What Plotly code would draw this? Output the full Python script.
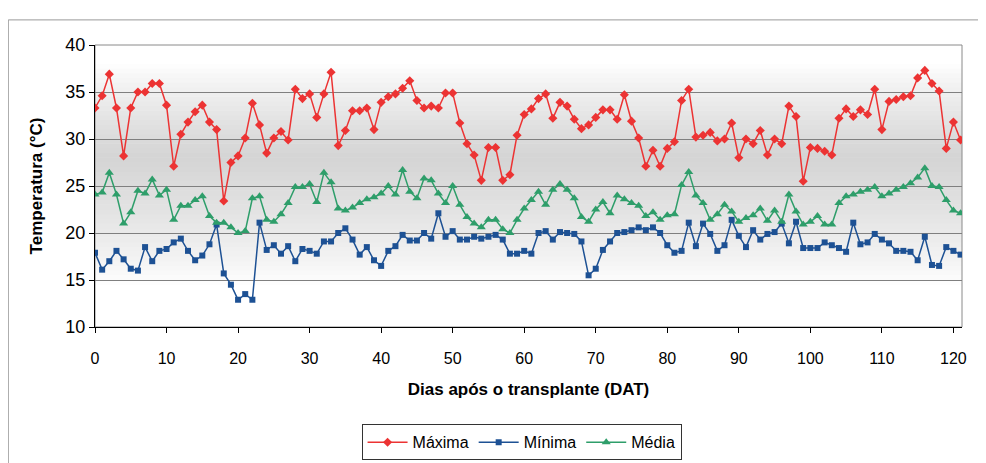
import plotly.graph_objects as go

days = list(range(122))

maxima = [33.3, 34.6, 36.9, 33.3, 28.2, 33.3, 35.0, 35.0, 35.9, 35.9,
          33.6, 27.1, 30.5, 31.8, 32.9, 33.6, 31.8, 31.0, 23.4, 27.5,
          28.2, 30.1, 33.8, 31.5, 28.5, 30.1, 30.8, 29.9, 35.3, 34.3,
          34.8, 32.3, 34.8, 37.1, 29.3, 30.9, 33.0, 33.0, 33.3, 31.0,
          33.9, 34.5, 34.8, 35.4, 36.2, 34.1, 33.3, 33.5, 33.3, 34.9,
          34.9, 31.7, 29.5, 28.3, 25.6, 29.1, 29.1, 25.6, 26.2, 30.4,
          32.6, 33.2, 34.3, 34.8, 32.2, 33.9, 33.5, 32.1, 31.1, 31.5,
          32.3, 33.1, 33.1, 32.1, 34.7, 31.9, 30.1, 27.1, 28.8, 27.1,
          29.0, 29.7, 34.1, 35.3, 30.2, 30.4, 30.7, 29.8, 30.0, 31.7,
          28.0, 30.0, 29.5, 30.9, 28.3, 30.0, 29.5, 33.5, 32.4, 25.5,
          29.1, 29.0, 28.7, 28.3, 32.2, 33.2, 32.4, 33.1, 32.6, 35.3,
          31.0, 34.0, 34.2, 34.5, 34.6, 36.5, 37.3, 35.9, 35.1, 29.0,
          31.8, 29.9]

minima = [17.9, 16.1, 17.0, 18.1, 17.2, 16.2, 16.0, 18.5, 17.0, 18.1,
          18.3, 19.0, 19.4, 18.1, 17.1, 17.6, 18.8, 20.9, 15.7, 14.5,
          12.9, 13.5, 12.9, 21.1, 18.2, 18.7, 17.8, 18.6, 17.0, 18.3,
          18.1, 17.8, 19.1, 19.1, 20.0, 20.5, 19.3, 17.7, 18.5, 17.1,
          16.5, 18.1, 18.6, 19.8, 19.2, 19.2, 20.0, 19.4, 22.1, 19.6,
          20.2, 19.3, 19.3, 19.6, 19.4, 19.6, 19.8, 19.3, 17.8, 17.8,
          18.1, 17.8, 20.0, 20.2, 19.3, 20.1, 20.0, 19.9, 19.1, 15.5,
          16.2, 18.2, 19.1, 20.0, 20.1, 20.3, 20.6, 20.3, 20.6, 20.0,
          18.7, 17.9, 18.1, 21.1, 18.6, 21.0, 19.9, 18.1, 18.7, 21.4,
          19.7, 18.5, 20.3, 19.3, 19.9, 20.1, 21.0, 18.9, 21.2, 18.4,
          18.4, 18.4, 19.0, 18.7, 18.4, 18.0, 21.1, 18.8, 19.0, 19.9,
          19.3, 18.9, 18.1, 18.1, 18.0, 17.1, 19.6, 16.6, 16.5, 18.5,
          18.1, 17.7]

media = [24.1, 24.3, 26.4, 24.1, 21.0, 22.2, 24.5, 24.2, 25.7, 24.0,
         24.6, 21.4, 22.9, 22.9, 23.5, 23.9, 21.8, 21.1, 21.1, 20.6,
         20.0, 20.2, 23.7, 23.9, 21.4, 21.2, 22.0, 23.2, 24.9, 24.9,
         25.2, 23.3, 26.4, 25.4, 22.6, 22.4, 22.7, 23.2, 23.6, 23.8,
         24.2, 25.0, 24.1, 26.7, 24.4, 23.7, 25.8, 25.6, 24.2, 23.2,
         25.0, 23.0, 21.7, 21.0, 20.6, 21.4, 21.4, 20.4, 20.0, 21.4,
         22.6, 23.5, 24.4, 23.0, 24.6, 25.2, 24.6, 23.7, 21.7, 21.2,
         22.5, 23.3, 22.1, 24.0, 23.6, 23.2, 22.9, 21.8, 22.2, 21.4,
         21.9, 22.0, 25.1, 26.5, 24.0, 23.2, 21.4, 22.0, 23.0, 22.3,
         21.2, 21.6, 21.9, 22.6, 21.3, 22.4, 21.2, 24.1, 22.3, 20.9,
         21.2, 21.8, 20.9, 20.9, 23.2, 23.9, 24.1, 24.4, 24.6, 24.9,
         23.9, 24.2, 24.6, 24.9, 25.3, 25.9, 26.9, 25.0, 24.9, 23.5,
         22.4, 22.1]

x_ticks = list(range(0, 121, 10))
y_ticks = [10, 15, 20, 25, 30, 35, 40]

RED = "#ec3333"
BLUE = "#1d5194"
GREEN = "#2e9e6a"

fig = go.Figure()
fig.add_trace(go.Scatter(x=days, y=maxima, name="Máxima", mode="lines+markers",
                         line=dict(color=RED, width=1.5),
                         marker=dict(symbol="diamond", size=7, color=RED)))
fig.add_trace(go.Scatter(x=days, y=minima, name="Mínima", mode="lines+markers",
                         line=dict(color=BLUE, width=1.5),
                         marker=dict(symbol="square", size=6, color=BLUE)))
fig.add_trace(go.Scatter(x=days, y=media, name="Média", mode="lines+markers",
                         line=dict(color=GREEN, width=1.5),
                         marker=dict(symbol="triangle-up", size=8, color=GREEN)))

# gradient background (white - gray - white) as thin bands in the plot domain
shapes = []
n = 60
for i in range(n):
    f0 = i / n
    f1 = (i + 1) / n
    fm = (f0 + f1) / 2
    if fm < 0.6:
        t = max(0.0, (fm - 0.15) / (0.6 - 0.15))
    else:
        t = max(0.0, 1 - (fm - 0.6) / (0.93 - 0.6))
    t = t ** 0.8
    g = int(round(255 - t * (255 - 212)))
    shapes.append(dict(type="rect", xref="x domain", yref="y domain",
                       x0=0, x1=1, y0=f0, y1=f1 + 0.002, layer="below",
                       line=dict(width=0), fillcolor=f"rgb({g},{g},{g})"))
# outer frame (bottom edge runs off the page)
shapes.append(dict(type="rect", xref="paper", yref="paper",
                   x0=-0.100, x1=1.021, y0=-0.75, y1=1.089,
                   line=dict(color="#9a9a9a", width=1), layer="below"))

# page body has an 8px default margin, so size/margins compensate for it
fig.update_layout(
    width=978, height=455,
    margin=dict(l=87, r=24, t=37, b=136, autoexpand=False),
    paper_bgcolor="white",
    plot_bgcolor="rgba(0,0,0,0)",
    shapes=shapes,
    showlegend=True,
    legend=dict(orientation="h", x=0.492, xanchor="center",
                yref="container", y=0.085, yanchor="top",
                bordercolor="#333333", borderwidth=1,
                font=dict(family="Liberation Sans, Arial, sans-serif", size=16, color="black"),
                itemwidth=40, tracegroupgap=0, bgcolor="white"),
    font=dict(family="Liberation Sans, Arial, sans-serif", color="black"),
)

fig.update_xaxes(range=[0, 121.2], tickvals=x_ticks, ticktext=[str(v) for v in x_ticks],
                 ticks="outside", ticklen=5, tickcolor="black",
                 showgrid=False, zeroline=False, automargin=False,
                 showline=True, linecolor="black", linewidth=1, mirror=False,
                 ticklabelstandoff=12,
                 tickfont=dict(family="Liberation Sans Narrow, Arial Narrow, Liberation Sans, sans-serif", size=16),
                 title=dict(text="<b>Dias após o transplante (DAT)</b>", standoff=16,
                            font=dict(family="Liberation Sans Narrow, Arial Narrow, Liberation Sans, sans-serif", size=17)))
fig.update_yaxes(range=[10, 40], tickvals=y_ticks,
                 ticks="outside", ticklen=5, tickcolor="black",
                 showgrid=True, gridcolor="#7f7f7f", gridwidth=1, zeroline=False, automargin=False,
                 showline=True, linecolor="black", linewidth=1,
                 tickfont=dict(family="Liberation Sans, Arial, sans-serif", size=18),
                 title=dict(text="<b>Temperatura (°C)</b>", standoff=18,
                            font=dict(family="Liberation Sans, Arial, sans-serif", size=17)))

# right and top border of plot area
fig.add_shape(type="rect", xref="x domain", yref="y domain", x0=0, x1=1, y0=0, y1=1,
              line=dict(color="#8a8a8a", width=1), layer="below")

fig.write_html("out.html")
